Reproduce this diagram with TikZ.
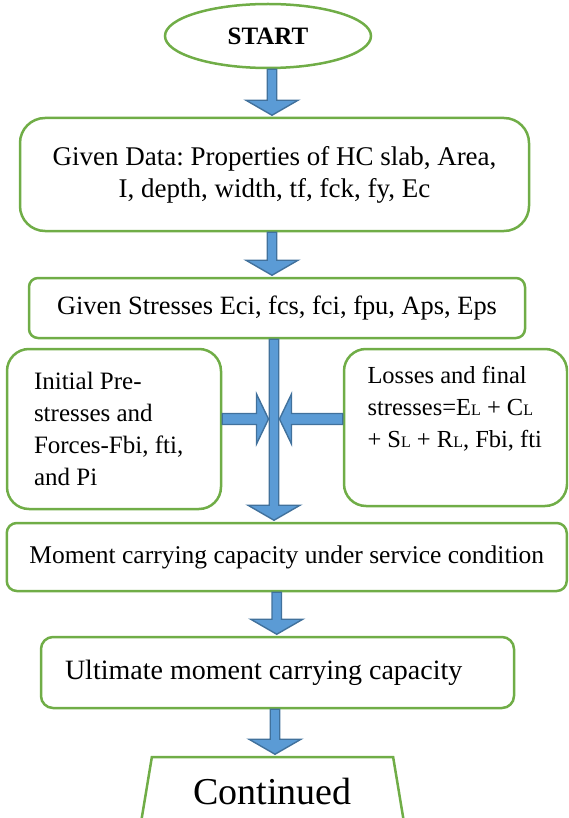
\documentclass[tikz,border=0pt]{standalone}
\usepackage{fontspec}
\setmainfont{Liberation Serif}
\usetikzlibrary{shapes.geometric,calc}
\definecolor{boxgreen}{RGB}{112,173,71}
\definecolor{flowfill}{RGB}{91,155,213}
\definecolor{flowline}{RGB}{65,113,156}
\newcommand{\lsub}{{\fontsize{16}{16}\selectfont L}}
\newcommand{\fsz}[1]{\fontsize{#1}{32}\selectfont}
% block arrow going down: [x shift] {from} {to}
\newcommand{\flowv}[3][0]{%
  \draw[flowarrow] let \p1=($(#2)+(#1,0)$), \p2=($(#3)+(0,-1.5)$),
    \p3=($(\x1,\y2)!15pt!(\p1)$) in
    (\x1-4.75pt,\y1) -- (\x1-4.75pt,\y3) -- (\x1-26pt,\y3) -- (\x1,\y2)
    -- (\x1+26pt,\y3) -- (\x1+4.75pt,\y3) -- (\x1+4.75pt,\y1) -- cycle;}
% block arrow going sideways: {from} {tip}
\newcommand{\flowh}[2]{%
  \draw[flowarrow] let \p1=(#1), \p2=(#2), \p3=($(\p2)!12pt!(\x1,\y2)$) in
    (\x1,\y2-5.5pt) -- (\x3,\y2-5.5pt) -- (\x3,\y2-25pt) -- (\p2)
    -- (\x3,\y2+25pt) -- (\x3,\y2+5.5pt) -- (\x1,\y2+5.5pt) -- cycle;}

\begin{document}
\begin{tikzpicture}[x=1pt,y=-1pt,
    box/.style={draw=boxgreen,line width=2.5pt,rounded corners=#1,
      execute at begin node={\spaceskip=0pt\xspaceskip=0pt\frenchspacing}},
    box/.default=10pt,
    flowarrow/.style={fill=flowfill,draw=flowline,line width=1.4pt}]
  \useasboundingbox (0,0) rectangle (568,818);
  \clip (0,0) rectangle (568,818);

  \node[ellipse,draw=boxgreen,line width=2.5pt,minimum width=206pt,minimum height=64pt,
    font=\fontsize{25}{28}\selectfont\bfseries] (start) at (268,36) {START};
  \node[box=25pt,minimum width=509pt,minimum height=113pt,align=center,font=\fsz{27}] (data) at (274.5,174.5)
    {Given Data: Properties of HC slab, Area,\\ I, depth, width, tf, fck, fy, Ec};
  \node[box=9pt,minimum width=496pt,minimum height=60pt,font=\fsz{26.4}] (stress) at (277,308)
    {Given Stresses Eci, fcs, fci, fpu, Aps, Eps};
  \node[box=22pt,minimum width=214pt,minimum height=160pt,text width=160pt,align=left,font=\fsz{25}] (init) at (114,429)
    {Initial Pre-\\stresses and\\Forces-Fbi, fti,\\and Pi};
  \node[box=22pt,minimum width=223pt,minimum height=157pt,text width=176pt,align=left,font=\fsz{24.5}] (loss) at (455.5,427.5)
    {Losses and final\\stresses=E\lsub{} + C\lsub\\+ S\lsub{} + R\lsub, Fbi, fti\\\strut};
  \node[box=10pt,minimum width=560pt,minimum height=68pt,font=\fsz{25.5}] (moment) at (286.75,557)
    {Moment carrying capacity under service condition};
  \node[box=12pt,minimum width=473pt,minimum height=71pt,text width=425pt,align=left,font=\fsz{28}] (ultimate) at (277.5,672.5)
    {Ultimate moment carrying capacity};
  \node[trapezium,trapezium stretches=true,trapezium angle=77,draw=boxgreen,line width=2.5pt,
    minimum width=264pt,minimum height=68pt,font=\fontsize{38}{44}\selectfont] (continued) at (272.5,791)
    {Continued};

  \coordinate (joinL) at (268.5,419);
  \coordinate (joinR) at (279.5,419);

  \flowv[4]{start.south}{data.north}
  \flowv[-2.5]{data.south}{stress.north}
  \flowv[-3]{stress.south}{moment.north}
  \flowh{init.east}{joinL}
  \flowh{loss.west}{joinR}
  \flowv[-10]{moment.south}{ultimate.north}
  \flowv[-2.5]{ultimate.south}{continued.north}
\end{tikzpicture}
\end{document}
